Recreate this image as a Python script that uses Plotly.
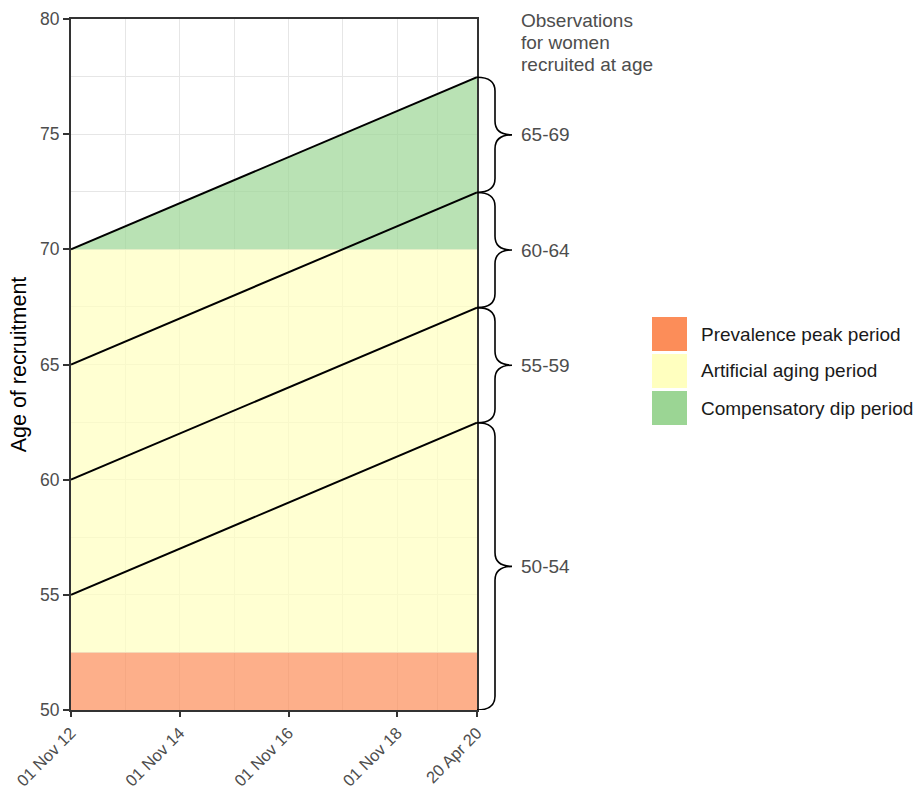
import plotly.graph_objects as go

# ---- data ----
start_date = "2012-11-01"
end_date = "2020-04-20"
line_start_age = [55, 60, 65, 70]
line_end_age = [62.47, 67.47, 72.47, 77.47]

peak_band = [50, 52.5]
aging_band = [52.5, 70]
dip_poly_y = [70, 77.47, 70]

period_names = ["Prevalence peak period", "Artificial aging period", "Compensatory dip period"]
period_colors = ["rgb(252,141,89)", "rgb(255,255,191)", "rgb(155,213,148)"]
period_fills = ["rgba(252,141,89,0.7)", "rgba(255,255,191,0.7)", "rgba(155,213,148,0.7)"]

group_labels = ["50-54", "55-59", "60-64", "65-69"]
group_low = [50, 62.47, 67.47, 72.47]
group_high = [62.47, 67.47, 72.47, 77.47]

header_lines = ["Observations", "for women", "recruited at age"]

x_tickvals = ["2012-11-01", "2014-11-01", "2016-11-01", "2018-11-01", "2020-04-20"]
x_ticktext = ["01 Nov 12", "01 Nov 14", "01 Nov 16", "01 Nov 18", "20 Apr 20"]
x_minor = ["2013-11-01", "2015-11-01", "2017-11-01", "2019-07-27"]
y_tickvals = [50, 55, 60, 65, 70, 75, 80]
y_minor = [52.5, 57.5, 62.5, 67.5, 72.5, 77.5]

GRAY = "#4D4D4D"
FONT = "Liberation Sans"
TXT = 19
TICK = 17.5

fig = go.Figure()

# bands
fig.add_trace(go.Scatter(
    x=[start_date, end_date, end_date, start_date, start_date],
    y=[peak_band[0], peak_band[0], peak_band[1], peak_band[1], peak_band[0]],
    fill="toself", fillcolor=period_fills[0], mode="none", hoverinfo="skip", showlegend=False))
fig.add_trace(go.Scatter(
    x=[start_date, end_date, end_date, start_date, start_date],
    y=[aging_band[0], aging_band[0], aging_band[1], aging_band[1], aging_band[0]],
    fill="toself", fillcolor=period_fills[1], mode="none", hoverinfo="skip", showlegend=False))
fig.add_trace(go.Scatter(
    x=[start_date, end_date, end_date, start_date],
    y=dip_poly_y + [dip_poly_y[0]],
    fill="toself", fillcolor=period_fills[2], mode="none", hoverinfo="skip", showlegend=False))

# cohort lines
for a0, a1 in zip(line_start_age, line_end_age):
    fig.add_trace(go.Scatter(x=[start_date, end_date], y=[a0, a1], mode="lines",
                             line=dict(color="black", width=2), showlegend=False, hoverinfo="skip"))

# braces (outside plot, right side)
pw = 406.0
ph = 691.0
xe = 1.0
xv = 1 + 18 / pw
xt = 1 + 35 / pw
r = 0.6
for lo, hi, lab in zip(group_low, group_high, group_labels):
    ym = (lo + hi) / 2
    path = (f"M {xe},{lo} Q {xv},{lo} {xv},{lo + r} L {xv},{ym - r} "
            f"Q {xv},{ym} {xt},{ym} Q {xv},{ym} {xv},{ym + r} "
            f"L {xv},{hi - r} Q {xv},{hi} {xe},{hi}")
    fig.add_shape(type="path", path=path, xref="paper", yref="y",
                  line=dict(color="black", width=1.6))
    fig.add_annotation(x=1 + 42 / pw, y=ym, xref="paper", yref="y", text=lab,
                       showarrow=False, xanchor="left", yanchor="middle",
                       font=dict(size=TXT, color=GRAY, family=FONT))

for i, line in enumerate(header_lines):
    fig.add_annotation(x=1 + 42 / pw, y=(710 - (21 + 21.5 * i)) / ph, xref="paper", yref="paper",
                       text=line, showarrow=False, xanchor="left", yanchor="middle", align="left",
                       font=dict(size=TXT, color=GRAY, family=FONT))

# manual legend
leg_x0 = (652 - 71) / pw
leg_x1 = (687 - 71) / pw
leg_tops = [317, 354, 391]
for name, col, top in zip(period_names, period_colors, leg_tops):
    y0 = (710 - (top + 34)) / ph
    y1 = (710 - top) / ph
    fig.add_shape(type="rect", xref="paper", yref="paper", x0=leg_x0, x1=leg_x1,
                  y0=y0, y1=y1, fillcolor=col, line=dict(width=0))
    fig.add_annotation(x=(699 - 71) / pw, y=(y0 + y1) / 2, xref="paper", yref="paper",
                       text=name, showarrow=False, xanchor="left", yanchor="middle",
                       font=dict(size=TXT, color="#1A1A1A", family=FONT))

fig.update_layout(
    width=917, height=792,
    margin=dict(l=71, r=440, t=19, b=82),
    plot_bgcolor="white", paper_bgcolor="white",
    font=dict(family=FONT),
    showlegend=False,
)
fig.update_xaxes(
    type="date", range=[start_date, end_date], automargin=False,
    tickmode="array", tickvals=x_tickvals, ticktext=x_ticktext, tickangle=-45,
    tickfont=dict(size=16.5, color=GRAY, family=FONT),
    ticks="outside", ticklen=5, tickwidth=2, tickcolor="#333333",
    showgrid=True, gridcolor="#E6E6E6", gridwidth=1.4,
    minor=dict(tickmode="array", tickvals=x_minor, showgrid=True, gridcolor="#E6E6E6", gridwidth=1.4, ticks=""),
    showline=True, linecolor="#333333", linewidth=2, mirror=True, zeroline=False,
)
fig.update_yaxes(
    range=[50, 80], tickmode="array", tickvals=y_tickvals, automargin=False,
    tickfont=dict(size=TICK, color=GRAY, family=FONT),
    ticks="outside", ticklen=6, tickwidth=2, tickcolor="#333333",
    showgrid=True, gridcolor="#E6E6E6", gridwidth=1.4,
    minor=dict(tickmode="array", tickvals=y_minor, showgrid=True, gridcolor="#E6E6E6", gridwidth=1.4, ticks=""),
    showline=True, linecolor="#333333", linewidth=2, mirror=True, zeroline=False,
    title=dict(text="Age of recruitment", font=dict(size=21.5, color="black", family=FONT), standoff=8),
)

fig.write_html("out.html", config={"displayModeBar": False},
               post_script="document.body.style.margin='0px';document.body.style.overflow='hidden';")
